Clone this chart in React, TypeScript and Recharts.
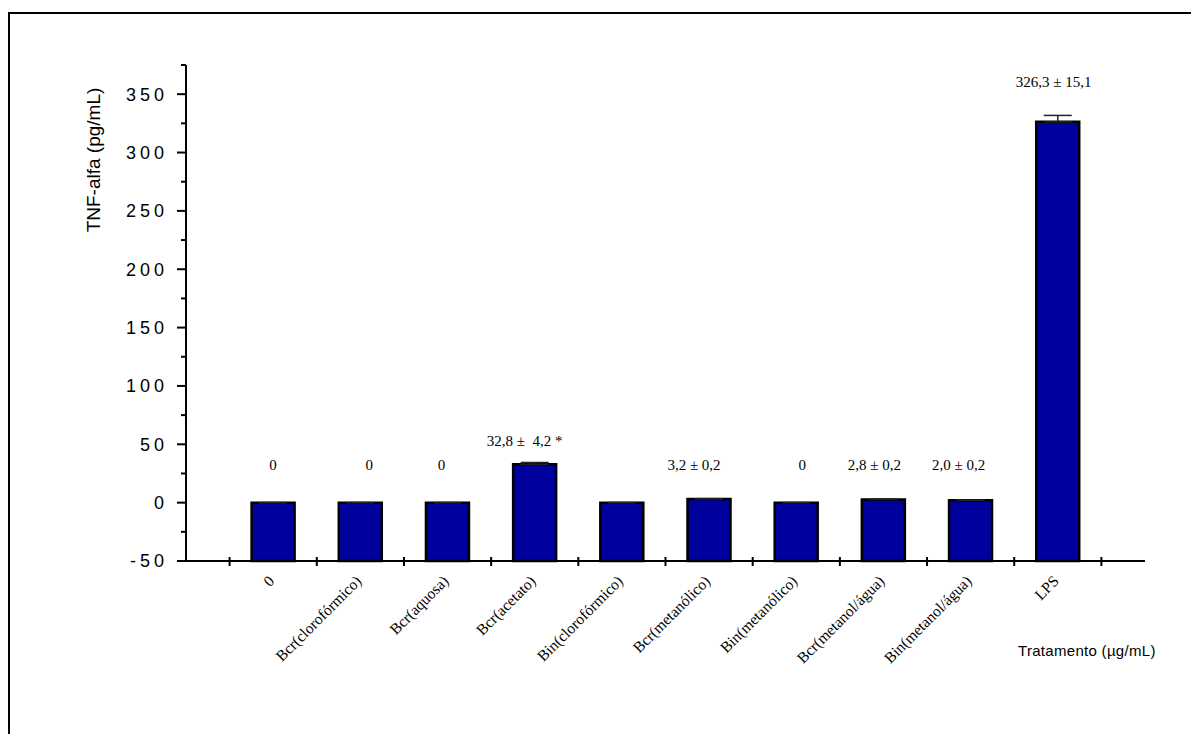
import React from 'react';
import { BarChart, Bar, XAxis, YAxis, ErrorBar, LabelList } from 'recharts';

// Treatments along the x axis
const CATEGORIES = [
  '0',
  'Bcr(clorofórmico)',
  'Bcr(aquosa)',
  'Bcr(acetato)',
  'Bin(clorofórmico)',
  'Bcr(metanólico)',
  'Bin(metanólico)',
  'Bcr(metanol/água)',
  'Bin(metanol/água)',
  'LPS',
];

// TNF-alfa (pg/mL), mean per treatment
const TNF_MEAN = [0, 0, 0, 32.8, 0, 3.2, 0, 2.8, 2.0, 326.3];

// upper whisker as drawn in the figure
const ERR_UP = [0, 0, 0, 1.6, 0, 0.2, 0, 0.2, 0.2, 5.5];

// text printed above each bar
const VALUE_LABELS = [
  '0', '0', '0', '32,8 ±  4,2 *', '', '3,2 ± 0,2', '0', '2,8 ± 0,2', '2,0 ± 0,2', '326,3 ± 15,1',
];

const Y_TICKS = [-50, -25, 0, 25, 50, 75, 100, 125, 150, 175, 200, 225, 250, 275, 300, 325, 350, 375];
const Y_MIN = -50;
const Y_MAX = 375;

// hand placement of the value labels (px above bar top, px sideways)
const LABEL_LIFT = [38, 38, 38, 23, 38, 34, 38, 34, 35, 40];
const LABEL_DX = [0, 9, -6, -10, 0, -15, 6, -9, -12, -4];

const BAR_FILL = '#00009c';
const SANS = '"Liberation Sans", Arial, sans-serif';
const SERIF = '"Liberation Serif", "Times New Roman", serif';

const data = CATEGORIES.map((name, i) => ({
  name,
  value: TNF_MEAN[i],
  err: [0, ERR_UP[i]],
}));

function YTick(props: any) {
  const { x, y, payload } = props;
  const v: number = payload?.value;
  const major = v % 50 === 0 && v !== Y_MAX;
  return (
    <g>
      <line x1={x - (major ? 9 : 5)} y1={y} x2={x} y2={y} stroke="#000" strokeWidth={2} />
      {major && (
        <text
          x={x - 18}
          y={y}
          dy="0.36em"
          textAnchor="end"
          fontFamily={SANS}
          fontSize={18}
          letterSpacing={4}
          fill="#000"
        >
          {v}
        </text>
      )}
    </g>
  );
}

function XTick(props: any) {
  const { x, y, payload, index } = props;
  const half = payload?.offset || 43.6;
  const tx = x + 2;
  const ty = y + 21;
  return (
    <g>
      <line x1={x - half} y1={y - 4} x2={x - half} y2={y + 5} stroke="#000" strokeWidth={2} />
      {index === CATEGORIES.length - 1 && (
        <line x1={x + half} y1={y - 4} x2={x + half} y2={y + 5} stroke="#000" strokeWidth={2} />
      )}
      <text
        x={tx}
        y={ty}
        textAnchor="end"
        transform={`rotate(-45, ${tx}, ${ty})`}
        fontFamily={SERIF}
        fontSize={15.5}
        fill="#000"
      >
        {payload?.value}
      </text>
    </g>
  );
}

function ValueLabel(props: any) {
  const vb = props.viewBox ?? props;
  const i: number = props.index;
  const text = VALUE_LABELS[i];
  if (!text) return null;
  const cx = vb.x + vb.width / 2 + LABEL_DX[i];
  const cy = vb.y - LABEL_LIFT[i];
  return (
    <text
      x={cx}
      y={cy}
      dy="0.33em"
      textAnchor="middle"
      fontFamily={SERIF}
      fontSize={15}
      fill="#000"
      style={{ whiteSpace: 'pre' }}
    >
      {text}
    </text>
  );
}

export default function App() {
  return (
    <div
      style={{
        position: 'relative',
        width: 1199,
        height: 742,
        margin: -8,
        overflow: 'hidden',
        background: '#fff',
      }}
    >
      <div
        style={{
          position: 'absolute',
          left: 8,
          top: 12,
          width: 1300,
          height: 900,
          borderTop: '2px solid #000',
          borderLeft: '2px solid #000',
        }}
      />
      <div style={{ position: 'absolute', left: 0, top: 0 }}>
        <BarChart
          width={1199}
          height={742}
          data={data}
          margin={{ top: 65, right: 54, bottom: 0, left: 66 }}
          barSize={43}
        >
          <XAxis
            dataKey="name"
            type="category"
            interval={0}
            height={181}
            padding={{ left: 43.6, right: 43.6 }}
            axisLine={{ stroke: '#000', strokeWidth: 2 }}
            tickLine={false}
            tickSize={0}
            tickMargin={0}
            tick={<XTick />}
            label={{
              content: () => (
                <text
                  x={1018}
                  y={656}
                  fontFamily={SANS}
                  fontSize={15}
                  letterSpacing={0.3}
                  fill="#000"
                >
                  Tratamento (µg/mL)
                </text>
              ),
            }}
          />
          <YAxis
            type="number"
            width={120}
            domain={[Y_MIN, Y_MAX]}
            ticks={Y_TICKS}
            interval={0}
            axisLine={{ stroke: '#000', strokeWidth: 2 }}
            tickLine={false}
            tickSize={0}
            tickMargin={0}
            tick={<YTick />}
            label={{
              content: () => (
                <text
                  x={93}
                  y={160}
                  transform="rotate(-90, 93, 160)"
                  textAnchor="middle"
                  dy="0.35em"
                  fontFamily={SANS}
                  fontSize={19}
                  fill="#000"
                >
                  TNF-alfa (pg/mL)
                </text>
              ),
            }}
          />
          <Bar
            dataKey={(d: any) => [Y_MIN, d.value]}
            fill={BAR_FILL}
            stroke="#000"
            strokeWidth={2.5}
            isAnimationActive={false}
          >
            <ErrorBar dataKey="err" width={14} stroke="#222" strokeWidth={1.5} direction="y" />
            <LabelList content={<ValueLabel />} />
          </Bar>
        </BarChart>
      </div>
    </div>
  );
}
